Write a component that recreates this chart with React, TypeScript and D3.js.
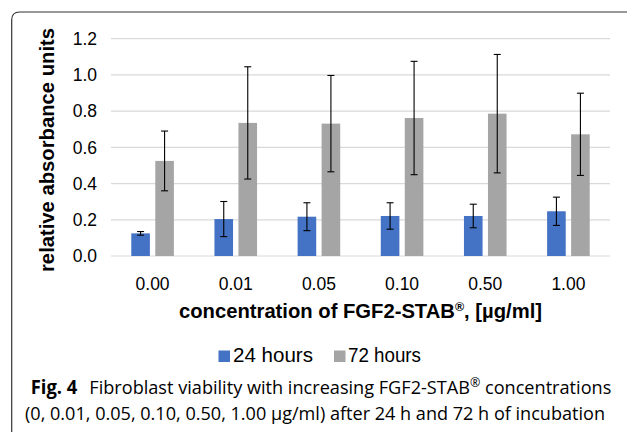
import React from "react";
import * as d3 from "d3";

const categories = ["0.00", "0.01", "0.05", "0.10", "0.50", "1.00"];
const seriesNames = ["24 hours", "72 hours"];
const values24 = [0.125, 0.204, 0.217, 0.221, 0.221, 0.247];
const errors24 = [0.01, 0.097, 0.077, 0.073, 0.065, 0.078];
const values72 = [0.525, 0.735, 0.731, 0.762, 0.786, 0.672];
const errors72 = [0.165, 0.31, 0.266, 0.313, 0.327, 0.227];
const yTicks = [0, 0.2, 0.4, 0.6, 0.8, 1.0, 1.2];
const colors = ["#4472C4", "#A5A5A5"];

const W = 627;
const H = 432;
const plot = { left: 111, right: 610, top: 38.7, bottom: 256 };
const ARIAL = "'Liberation Sans', Arial, sans-serif";
const CAP = "'Open Sans', 'Noto Sans', sans-serif";

export default function App() {
  const x0 = d3.scaleBand<string>().domain(categories).range([plot.left, plot.right]).padding(0);
  const x1 = d3
    .scaleBand<string>()
    .domain(seriesNames)
    .range([0, x0.bandwidth()])
    .paddingInner(0.225)
    .paddingOuter(0.845);
  const y = d3.scaleLinear().domain([0, 1.2]).range([plot.bottom, plot.top]);

  const series = [
    { name: seriesNames[0], vals: values24, errs: errors24, color: colors[0] },
    { name: seriesNames[1], vals: values72, errs: errors72, color: colors[1] },
  ];

  return (
    <svg
      width={W}
      height={H}
      viewBox={`0 0 ${W} ${H}`}
      style={{ position: "absolute", left: 0, top: 0, background: "#fff" }}
    >
      <path d="M 11.7 432 V 20 Q 11.7 12 19.7 12 H 627" fill="none" stroke="#333" strokeWidth={1.2} />

      {yTicks.map((t) => (
        <g key={t}>
          <line x1={plot.left} x2={plot.right} y1={y(t)} y2={y(t)} stroke="#D9D9D9" strokeWidth={1.2} />
          <text
            x={97}
            y={y(t)}
            dy="0.36em"
            textAnchor="end"
            fontFamily={ARIAL}
            fontSize={17.5}
            fill="#000"
          >
            {t.toFixed(1)}
          </text>
        </g>
      ))}

      {series.map((s) =>
        categories.map((c, i) => {
          const bx = (x0(c) as number) + (x1(s.name) as number);
          const bw = x1.bandwidth();
          const cx = bx + bw / 2;
          return (
            <g key={s.name + c}>
              <rect x={bx} y={y(s.vals[i])} width={bw} height={y(0) - y(s.vals[i])} fill={s.color} />
              <line x1={cx} x2={cx} y1={y(s.vals[i] + s.errs[i])} y2={y(s.vals[i] - s.errs[i])} stroke="#000" strokeWidth={1.1} />
              <line x1={cx - 3.5} x2={cx + 3.5} y1={y(s.vals[i] + s.errs[i])} y2={y(s.vals[i] + s.errs[i])} stroke="#000" strokeWidth={1.1} />
              <line x1={cx - 3.5} x2={cx + 3.5} y1={y(s.vals[i] - s.errs[i])} y2={y(s.vals[i] - s.errs[i])} stroke="#000" strokeWidth={1.1} />
            </g>
          );
        })
      )}

      {categories.map((c) => (
        <text
          key={c}
          x={(x0(c) as number) + x0.bandwidth() / 2}
          y={290}
          textAnchor="middle"
          fontFamily={ARIAL}
          fontSize={17.5}
          fill="#000"
        >
          {c}
        </text>
      ))}

      <text
        transform={`translate(53.5,150) rotate(-90)`}
        textAnchor="middle"
        fontFamily={ARIAL}
        fontWeight="bold"
        fontSize={20}
        textLength={244}
        lengthAdjust="spacingAndGlyphs"
        fill="#000"
      >
        relative absorbance units
      </text>

      <text
        x={179}
        y={318}
        fontFamily={ARIAL}
        fontWeight="bold"
        fontSize={19.5}
        textLength={363}
        lengthAdjust="spacingAndGlyphs"
        fill="#000"
      >
        concentration of FGF2-STAB
        <tspan fontSize={12} dy={-7}>®</tspan>
        <tspan dy={7}>, [µg/ml]</tspan>
      </text>

      <rect x={218.5} y={350.5} width={11.5} height={11.5} fill={colors[0]} />
      <text x={233} y={362} fontFamily={ARIAL} fontSize={19.5} textLength={80} lengthAdjust="spacingAndGlyphs" fill="#000">
        {seriesNames[0]}
      </text>
      <rect x={334} y={350.5} width={11.5} height={11.5} fill={colors[1]} />
      <text x={348} y={362} fontFamily={ARIAL} fontSize={19.5} textLength={73} lengthAdjust="spacingAndGlyphs" fill="#000">
        {seriesNames[1]}
      </text>

      <text x={30.7} y={394} fontFamily={CAP} fontWeight="bold" fontSize={19} textLength={46.6} lengthAdjust="spacingAndGlyphs" fill="#000">
        Fig. 4
      </text>
      <text x={89.3} y={394} fontFamily={CAP} fontSize={19} textLength={522} lengthAdjust="spacingAndGlyphs" fill="#000">
        Fibroblast viability with increasing FGF2-STAB
        <tspan fontSize={13} dy={-7}>®</tspan>
        <tspan dy={7}> concentrations</tspan>
      </text>
      <text x={25} y={420} fontFamily={CAP} fontSize={19} textLength={580} lengthAdjust="spacingAndGlyphs" fill="#000">
        (0, 0.01, 0.05, 0.10, 0.50, 1.00 µg/ml) after 24 h and 72 h of incubation
      </text>
    </svg>
  );
}
